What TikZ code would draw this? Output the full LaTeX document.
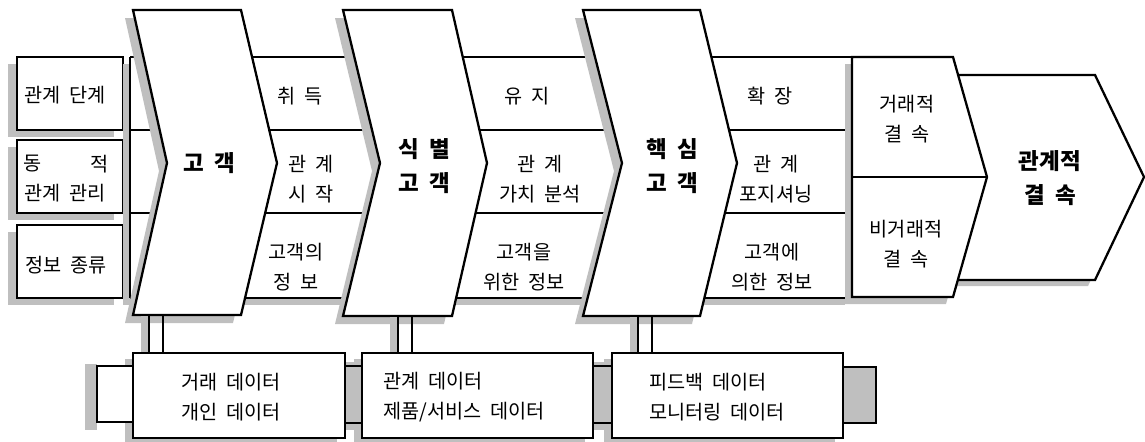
\documentclass[tikz,border=0pt]{standalone}
\usepackage{fontspec}
\setmainfont[WordSpace=2]{Noto Sans CJK KR}
\usetikzlibrary{fit}
\begin{document}
\begin{tikzpicture}[x=0.02cm,y=-0.02cm,line width=1.3pt,line join=miter,
  shade/.style={fill=black!25,draw=none},
  boxn/.style={draw,fill=white,inner sep=0pt,line width=1.3pt},
  txt/.style={font=\fontsize{11.2}{17}\selectfont,align=center,inner sep=0pt},
  btxt/.style={font=\fontsize{12.8}{19}\selectfont\bfseries,align=center,inner sep=0pt},
  ltxt/.style={font=\fontsize{11.2}{17}\selectfont,align=left,inner sep=0pt,anchor=west}]
\useasboundingbox (0,0) rectangle (1145,441);

% ---------- left label boxes ----------
\foreach \ya/\yb in {57/130,140/213,225/298}
  \fill[shade,shift={(-9,7)}] (17,\ya) rectangle (123,\yb);
\node[boxn,fit={(17,57) (123,130)}] (lb1) {};
\node[boxn,fit={(17,140) (123,213)}] (lb2) {};
\node[boxn,fit={(17,225) (123,298)}] (lb3) {};
\node[txt] (t-lb1) at (65,95) {관계 단계};
\node[txt,anchor=west] (t-lb2a) at (22,164) {동};
\node[txt,anchor=east] (t-lb2b) at (110,164) {적};
\node[txt] (t-lb2c) at (65,193) {관계 관리};
\node[txt] (t-lb3) at (66,265) {정보 종류};

% ---------- band ----------
\fill[shade,shift={(-7,7)}] (130,57) rectangle (852,298);
\fill[white] (130,57) rectangle (852,298);
\foreach \y in {57,130,213,298} \draw (130,\y) -- (852,\y);
\draw (130,57) -- (130,298);

% ---------- final arrow (behind block) ----------
\fill[shade,shift={(-7,6)}] (930,75) -- (1095,75) -- (1144,177) -- (1095,280) -- (930,280) -- cycle;
\fill[white] (930,75) -- (1095,75) -- (1144,177) -- (1095,280) -- (930,280) -- cycle;
\draw (930,75) -- (1095,75) -- (1144,177) -- (1095,280) -- (930,280);

% ---------- block ----------
\fill[shade,shift={(-7,7)}] (852,57) -- (953,57) -- (987,177) -- (953,297) -- (852,297) -- cycle;
\draw[fill=white] (852,57) -- (953,57) -- (987,177) -- (953,297) -- (852,297) -- cycle;
\draw (852,177) -- (987,177);

% ---------- chevrons ----------
\foreach \a/\b/\c/\n/\yb in {133/241/277/167/315,343/452/487/380/316,583/700/737/622/316}{
  \fill[shade,shift={(-8,8)}] (\a,10) -- (\b,10) -- (\c,163) -- (\b,\yb) -- (\a,\yb) -- (\n,163) -- cycle;
  \draw[fill=white] (\a,10) -- (\b,10) -- (\c,163) -- (\b,\yb) -- (\a,\yb) -- (\n,163) -- cycle;
}

% ---------- bottom boxes ----------
\fill[shade] (85,364) rectangle (97,430);
\fill[shade,shift={(-8,6)}] (133,353) rectangle (345,438);
\draw[fill=white] (133,366) -- (97,366) -- (97,422) -- (133,422);
\fill[shade] (337,362) rectangle (362,430);
\fill[shade] (586,362) rectangle (612,430);
\fill[shade,shift={(-8,6)}] (362,353) rectangle (593,438);
\fill[shade,shift={(-8,6)}] (612,353) rectangle (843,438);
\draw (345,366) -- (362,366) (345,423) -- (362,423);
\draw (593,366) -- (612,366) (593,423) -- (612,423);
\draw[fill=black!25] (843,367) -- (876,367) -- (876,423) -- (843,423);
\node[boxn,fit={(133,353) (345,438)}] (boxA) {};
\node[boxn,fit={(362,353) (593,438)}] (boxB) {};
\node[boxn,fit={(612,353) (843,438)}] (boxC) {};

% ---------- double connectors ----------
\coordinate (c1) at (156,316);
\coordinate (c2) at (405,317);
\coordinate (c3) at (645,317);
\foreach \c/\bx in {c1/boxA,c2/boxB,c3/boxC}{
  \fill[shade] ([xshift=-0.3cm]\c) rectangle ([xshift=-0.14cm]\c |- \bx.north);
  \draw ([xshift=-0.14cm]\c) -- ([xshift=-0.14cm]\c |- \bx.north);
  \draw ([xshift=0.14cm]\c) -- ([xshift=0.14cm]\c |- \bx.north);
}

% ---------- texts ----------
\node[btxt] (t-ch1) at (209,163) {고 객};
\node[btxt] (t-ch2) at (424,166) {식 별\\고 객};
\node[btxt] (t-ch3) at (672,166) {핵 심\\고 객};

\node[txt] (t-r1a) at (300,96) {취 득};
\node[txt] (t-r1b) at (527,96) {유 지};
\node[txt] (t-r1c) at (770,96) {확 장};
\node[txt] (t-r2a) at (311,179) {관 계\\시 작};
\node[txt] (t-r2b) at (540,179) {관 계\\가치 분석};
\node[txt] (t-r2c) at (776,179) {관 계\\포지셔닝};
\node[txt] (t-r3a) at (296,267) {고객의\\정 보};
\node[txt] (t-r3b) at (524,267) {고객을\\위한 정보};
\node[txt] (t-r3c) at (772,267) {고객에\\의한 정보};

\node[txt] (t-bk1) at (907,119) {거래적\\결 속};
\node[txt] (t-bk2) at (906,244) {비거래적\\결 속};
\node[btxt] (t-ar) at (1050,178) {관계적\\결 속};

\node[ltxt] (t-bA) at (180,397) {거래 데이터\\개인 데이터};
\node[ltxt] (t-bB) at (382,397) {관계 데이터\\제품/서비스 데이터};
\node[ltxt] (t-bC) at (648,397) {피드백 데이터\\모니터링 데이터};
\end{tikzpicture}
\end{document}
